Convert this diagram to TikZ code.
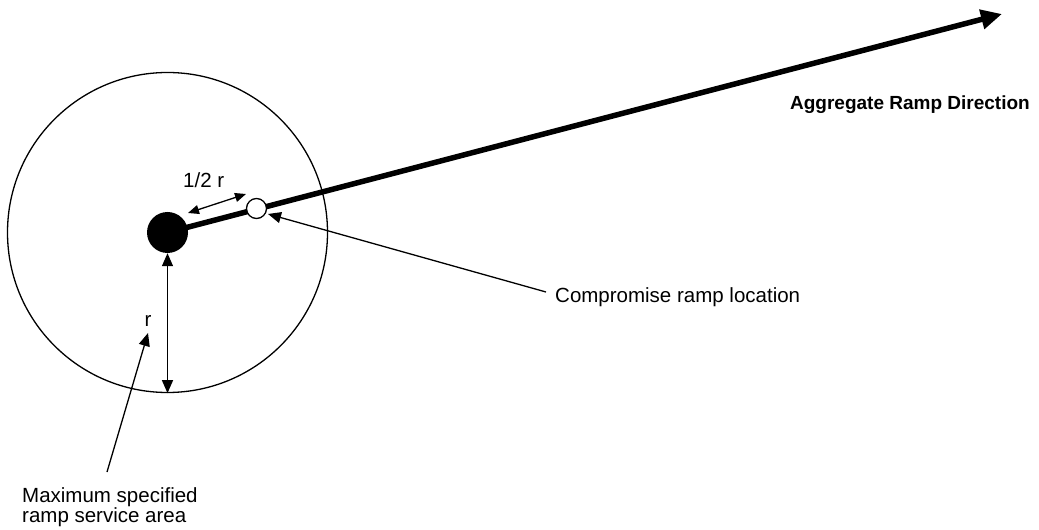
\documentclass[tikz,border=0pt]{standalone}
\usepackage{fontspec}
\setmainfont{Liberation Sans}
\usetikzlibrary{arrows.meta}
\tikzset{
  lbl/.style={inner sep=0pt, font=\fontsize{20.5bp}{19.5bp}\selectfont},
  boldlbl/.style={inner sep=0pt, font=\fontsize{19bp}{22bp}\selectfont\bfseries},
  thin/.style={line width=1.3bp},
  ptr/.style={line width=1.3bp, -{Triangle[length=13bp,width=11bp]}},
  dim/.style={line width=1.3bp, {Triangle[length=13bp,width=11bp]}-{Triangle[length=13bp,width=11bp]}},
  halfdim/.style={line width=1.3bp, {Triangle[length=11bp,width=9bp]}-{Triangle[length=11bp,width=9bp]}},
  main/.style={line width=5.5bp, -{Triangle[length=21bp,width=19bp]}},
}
\begin{document}
\begin{tikzpicture}[x=1bp,y=-1bp]
\useasboundingbox (0,0) rectangle (1039,530);
% service area circle
\node[draw, thin, circle, minimum size=320bp, inner sep=0pt] (area) at (167.5,232.5) {};
% aggregate direction arrow
\coordinate (tip) at (1002,14);
\draw[main] (167.5,232.5) -- (tip);
% ramp (filled dot) and compromise location (open circle)
\node[circle, fill=black, minimum size=41bp, inner sep=0pt] (ramp) at (167.5,232.5) {};
\node[circle, draw, thin, fill=white, minimum size=20bp, inner sep=0pt] (comp) at (256.5,208.5) {};
% labels
\node[boldlbl, anchor=base east] (aggr) at (1030,110) {Aggregate Ramp Direction};
\node[lbl, anchor=base west] (half) at (183,188) {1/2 r};
\node[lbl, anchor=base] (rlab) at (148,327) {r};
\node[lbl, anchor=base west] (complab) at (555,303) {Compromise ramp location};
\node[lbl, anchor=base west, align=left] (maxlab) at (22,522) {Maximum specified\\ramp service area};
% half-r dimension
\coordinate (h1) at (188,213);
\coordinate (h2) at (246,194);
\draw[halfdim] (h1) -- (h2);
% radius dimension
\draw[dim] (ramp.south) -- (area.south);
% pointers
\coordinate (cstart) at (546,292);
\coordinate (ctip) at (268,214);
\draw[ptr] (cstart) -- (ctip);
\coordinate (mstart) at (107,472);
\coordinate (mtip) at (148,333);
\draw[ptr] (mstart) -- (mtip);
\end{tikzpicture}
\end{document}
